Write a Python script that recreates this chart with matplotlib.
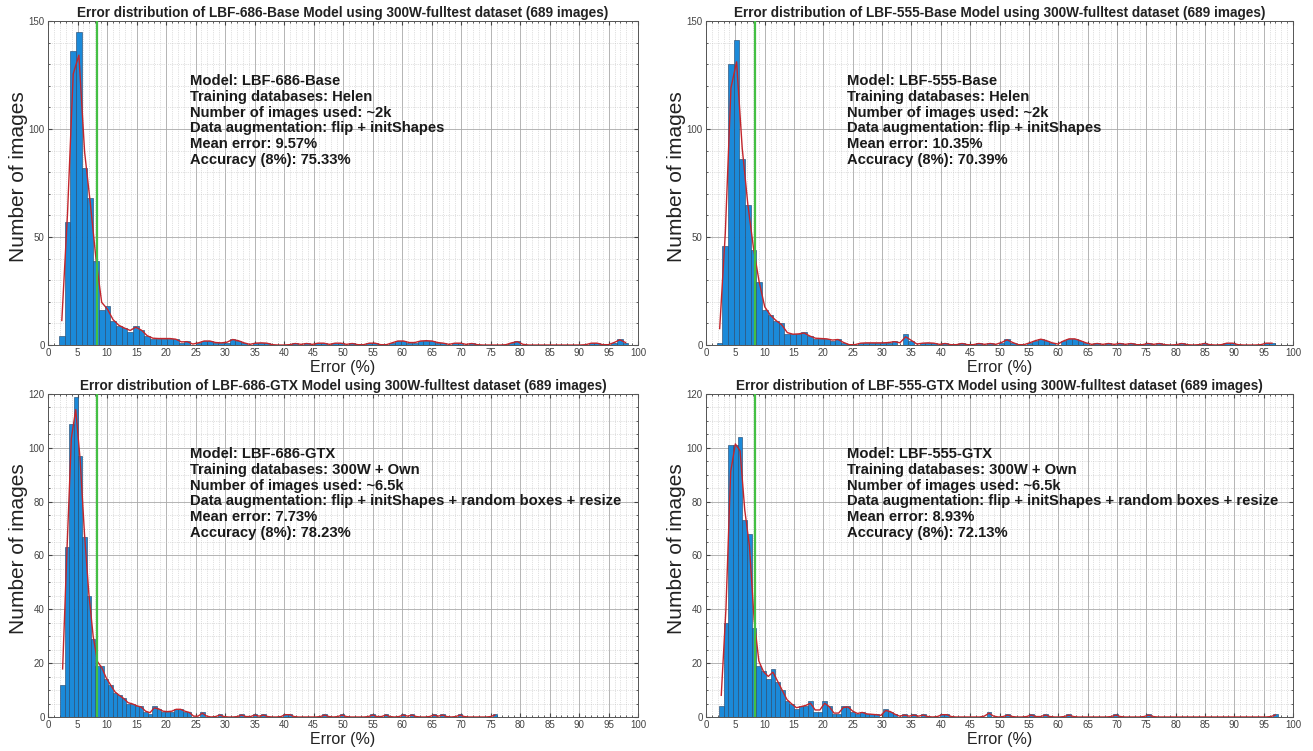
import numpy as np
import matplotlib
matplotlib.use('Agg')
import matplotlib.pyplot as plt
from matplotlib.ticker import MultipleLocator

plt.rcParams['font.family'] = ['Liberation Sans', 'DejaVu Sans']

# histogram counts per bin
# LBF-686-Base (first edge 1.85, bin width 0.965)
tl_counts = [4, 57, 136, 145, 82, 68, 39, 16, 18, 11,
             9, 8, 6, 9, 7, 4, 3, 3, 3, 3,
             3, 1, 2, 0, 1, 2, 2, 1, 1, 1,
             3, 2, 1, 0, 1, 1, 1, 0, 0, 0,
             0, 1, 0, 1, 0, 1, 1, 0, 1, 1,
             0, 1, 0, 0, 1, 1, 0, 0, 1, 2,
             2, 1, 1, 2, 2, 2, 1, 1, 0, 1,
             1, 0, 1, 0, 0, 0, 0, 0, 0, 1,
             2, 0, 0, 0, 0, 0, 0, 0, 0, 0,
             0, 0, 0, 1, 1, 0, 0, 1, 3, 1]
tl_edge0, tl_width = 1.85, 0.965

# LBF-555-Base
tr_counts = [1, 46, 130, 141, 86, 65, 44, 29, 16, 14,
             11, 10, 5, 5, 5, 6, 4, 3, 3, 3,
             2, 3, 1, 0, 0, 1, 1, 1, 1, 1,
             1, 2, 0, 5, 2, 0, 1, 1, 1, 0,
             1, 0, 0, 1, 0, 0, 1, 0, 1, 0,
             1, 3, 1, 0, 0, 1, 2, 3, 2, 1,
             0, 2, 3, 3, 2, 1, 0, 1, 0, 1,
             0, 1, 0, 1, 0, 0, 1, 0, 1, 0,
             0, 0, 1, 0, 0, 0, 1, 0, 0, 0,
             1, 1, 0, 0, 0, 0, 0, 1, 1]
tr_edge0, tr_width = 1.85, 0.96

# LBF-686-GTX
bl_counts = [12, 63, 109, 119, 97, 67, 45, 29, 19, 19,
             14, 12, 9, 8, 7, 5, 5, 4, 4, 2,
             1, 4, 3, 2, 2, 2, 3, 3, 2, 2,
             0, 0, 2, 0, 0, 0, 1, 0, 0, 0,
             0, 1, 0, 0, 1, 0, 1, 0, 0, 0,
             0, 1, 1, 0, 0, 0, 0, 0, 0, 0,
             1, 0, 0, 0, 1, 0, 0, 0, 0, 0,
             0, 1, 0, 0, 1, 0, 0, 0, 1, 0,
             1, 0, 0, 0, 0, 1, 0, 1, 0, 0,
             0, 1, 0, 0, 0, 0, 0, 0, 0, 1]
bl_edge0, bl_width = 2.1, 0.74

# LBF-555-GTX
br_counts = [4, 35, 101, 101, 104, 73, 68, 33, 19, 17,
             14, 18, 13, 10, 6, 5, 3, 4, 4, 6,
             2, 2, 6, 4, 1, 1, 4, 4, 2, 1,
             2, 1, 1, 1, 0, 3, 2, 1, 0, 1,
             0, 1, 0, 1, 0, 0, 0, 1, 1, 0,
             0, 0, 0, 0, 0, 0, 0, 2, 0, 0,
             0, 1, 0, 0, 0, 0, 1, 0, 0, 1,
             0, 0, 0, 0, 1, 0, 0, 0, 0, 0,
             0, 0, 0, 0, 1, 0, 0, 0, 0, 0,
             0, 1, 0, 0, 0, 0, 0, 0, 0, 0,
             0, 0, 0, 0, 0, 0, 0, 0, 0, 0,
             0, 0, 0, 0, 0, 0, 0, 0, 1]
br_edge0, br_width = 2.2, 0.8

models = ['LBF-686-Base', 'LBF-555-Base', 'LBF-686-GTX', 'LBF-555-GTX']
train_db = ['Helen', 'Helen', '300W + Own', '300W + Own']
n_used = ['~2k', '~2k', '~6.5k', '~6.5k']
augment = ['flip + initShapes', 'flip + initShapes',
           'flip + initShapes + random boxes + resize',
           'flip + initShapes + random boxes + resize']
mean_err = ['9.57%', '10.35%', '7.73%', '8.93%']
accuracy = ['75.33%', '70.39%', '78.23%', '72.13%']
thresh = 8.3

panels = [(tl_counts, tl_edge0, tl_width), (tr_counts, tr_edge0, tr_width),
          (bl_counts, bl_edge0, bl_width), (br_counts, br_edge0, br_width)]

fig = plt.figure(figsize=(13.13, 7.51), dpi=100)
boxes = [[0.0366, 0.5406, 0.4494, 0.4314], [0.5377, 0.5406, 0.4471, 0.4314],
         [0.0366, 0.0453, 0.4494, 0.4301], [0.5377, 0.0453, 0.4471, 0.4301]]

for i, (counts, e0, w) in enumerate(panels):
    ax = fig.add_axes(boxes[i])
    counts = np.array(counts, dtype=float)
    edges = e0 + w * np.arange(len(counts) + 1)
    centers = (edges[:-1] + edges[1:]) / 2
    ax.hist(centers, bins=edges, weights=counts, color='#1b8ad9',
            edgecolor='#2a4d73', linewidth=0.45, zorder=2)
    smooth = np.convolve(counts, [0.15, 0.7, 0.15], mode='same')
    ax.plot(centers, smooth, color='#c3262c', lw=1.0, zorder=3)
    ax.axvline(thresh, color='#44c044', lw=1.6, zorder=4)

    top = 150 if i < 2 else 120
    ax.set_xlim(0, 100)
    ax.set_ylim(0, top)
    ax.xaxis.set_major_locator(MultipleLocator(5))
    ax.xaxis.set_minor_locator(MultipleLocator(1))
    if i < 2:
        ax.yaxis.set_major_locator(MultipleLocator(50))
        ax.yaxis.set_minor_locator(MultipleLocator(10))
    else:
        ax.yaxis.set_major_locator(MultipleLocator(20))
        ax.yaxis.set_minor_locator(MultipleLocator(5))
    ax.grid(which='major', color='#a8a8a8', lw=0.6, zorder=0)
    ax.grid(which='minor', color='#c4c4c4', lw=0.5, ls=':', zorder=0)
    ax.set_axisbelow(True)
    ax.tick_params(which='both', direction='in', labelsize=7, labelcolor='#444444',
                   color='#444444', top=True, right=True)
    ax.tick_params(which='major', length=3, pad=2.5)
    ax.tick_params(which='minor', length=1.5)
    for s in ax.spines.values():
        s.set_color('#555555')
        s.set_linewidth(0.7)

    ax.set_title('Error distribution of %s Model using 300W-fulltest dataset (689 images)' % models[i],
                 fontsize=9.8, fontweight='bold', pad=3, color='#222222')
    ax.set_xlabel('Error (%)', fontsize=11.5, labelpad=1, color='#222222')
    ax.set_ylabel('Number of images', fontsize=15, color='#222222')
    ax.yaxis.set_label_coords(-0.034, 0.52)

    info = ['Model: ' + models[i],
            'Training databases: ' + train_db[i],
            'Number of images used: ' + n_used[i],
            'Data augmentation: ' + augment[i],
            'Mean error: ' + mean_err[i],
            'Accuracy (8%): ' + accuracy[i]]
    ax.text(0.24, 0.835, '\n'.join(info), transform=ax.transAxes, va='top', ha='left',
            fontsize=10.6, fontweight='bold', linespacing=1.15, color='#1a1a1a', zorder=5)

fig.savefig('out.png', dpi=100)
